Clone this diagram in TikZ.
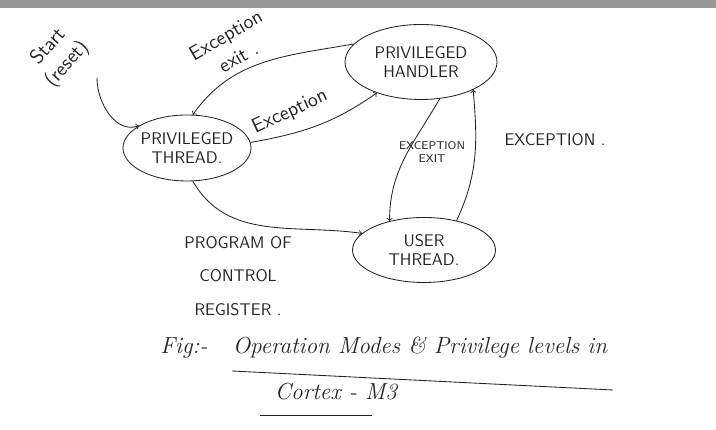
\documentclass[tikz,border=0pt]{standalone}
\usetikzlibrary{shapes.geometric}

\begin{document}
\begin{tikzpicture}[
    mode/.style={ellipse, draw=ink, semithick, inner ysep=0pt, inner xsep=-2pt, align=center, font=\sffamily\large, text=ink},
    note/.style={align=center, font=\sffamily, text=ink},
    flow/.style={draw=ink, semithick, ->},
    hand/.style={font=\itshape\fontsize{16.5}{20}\selectfont, text=ink}
]

% Define colors
\definecolor{ink}{RGB}{35, 35, 35}
\definecolor{scanedge}{RGB}{150, 150, 150}

% Page area and scanner edge
\useasboundingbox (0,0) rectangle (17.9,10.75);
\fill[scanedge] (0,10.55) rectangle (17.9,10.75);

% Operating modes
\node[mode, minimum width=3.2cm, minimum height=1.65cm] (thread) at (4.675,7.05) {PRIVILEGED\\THREAD.};
\node[mode, minimum width=3.8cm, minimum height=1.875cm] (handler) at (10.525,9.2) {PRIVILEGED\\HANDLER};
\node[mode, minimum width=3.575cm, minimum height=1.625cm] (user) at (10.6,4.5) {USER\\THREAD.};

% Reset entry
\coordinate (reset) at (2.425,8.8);
\node[note, font=\sffamily\Large, rotate=48] (start) at (1.45,9.35) {Start\\(reset)};
\draw[flow] (reset) to[out=-90,in=200] (thread.155);

% Thread <-> handler
\draw[flow] (handler.165) to[out=190,in=55] (thread.80);
\node[note, font=\sffamily\Large, rotate=30] (exitlbl) at (5.8,9.6) {Exception\\exit .};
\draw[flow] (thread.5) to[out=10,in=215] (handler.215);
\node[note, font=\sffamily\Large, rotate=25] (exclbl) at (7.25,7.95) {Exception};

% Handler <-> user
\draw[flow] (handler.-63) to[out=240,in=90] (user.140);
\node[note, font=\sffamily\footnotesize] (exitlbl2) at (10.8,6.95) {EXCEPTION\\EXIT};
\draw[flow] (user.42) to[out=65,in=-85] (handler.-28);
\node[note, font=\sffamily\large] (exclbl2) at (13.875,7.25) {EXCEPTION .};

% Control register write
\draw[flow] (thread.-80) to[out=-60,in=172] (user.165);
\node[note, font=\sffamily\fontsize{12}{24}\selectfont] (ctrllbl) at (5.95,3.85) {PROGRAM OF\\CONTROL\\REGISTER .};

% Caption
\node[hand] (fig) at (4.6,2.05) {Fig:-};
\node[hand] (title) at (10.5,2.05) {Operation Modes \& Privilege levels in};
\draw[ink, semithick] (5.8,1.475) -- (15.325,1.0);
\node[hand] (chip) at (8.4,0.95) {Cortex - M3};
\draw[ink, semithick] (6.5,0.375) -- (9.3,0.375);

\end{tikzpicture}
\end{document}
